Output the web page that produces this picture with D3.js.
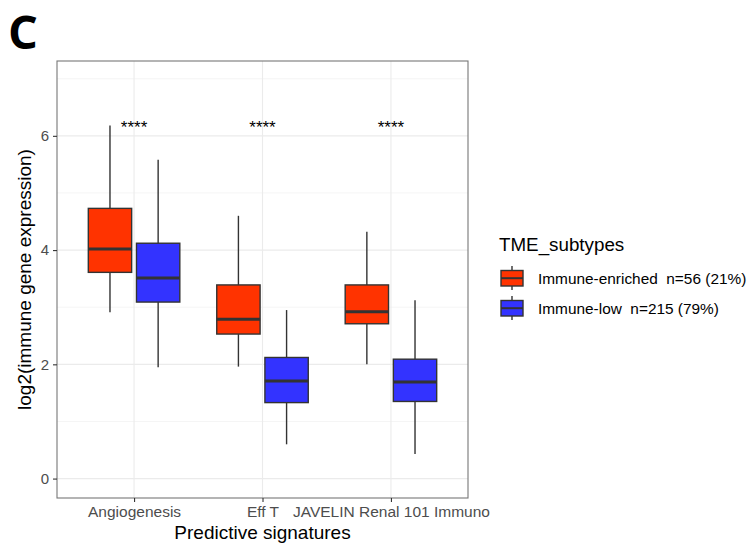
<!DOCTYPE html>
<html><head><meta charset="utf-8">
<script src="https://cdn.jsdelivr.net/npm/d3@7"></script>
<style>body{margin:0;background:#fff}svg{display:block}text{font-family:"Liberation Sans",Arial,sans-serif}</style>
</head><body>
<script>
const categories = ["Angiogenesis", "Eff T", "JAVELIN Renal 101 Immuno"];
const groups = ["Immune-enriched", "Immune-low"];
const groupLabels = ["Immune-enriched  n=56 (21%)", "Immune-low  n=215 (79%)"];
const groupColors = ["#FF3300", "#3333FF"];
// [whiskerLow, q1, median, q3, whiskerHigh] per category
const enrichedStats = [[2.91, 3.61, 4.02, 4.73, 6.18], [1.96, 2.53, 2.79, 3.39, 4.60], [2.00, 2.71, 2.92, 3.39, 4.32]];
const lowStats = [[1.95, 3.09, 3.51, 4.12, 5.58], [0.60, 1.33, 1.71, 2.12, 2.95], [0.43, 1.35, 1.69, 2.09, 3.12]];
const signif = ["****", "****", "****"];
const yTicks = [0, 2, 4, 6];
const yMinor = [1, 3, 5, 7];

const W = 749, H = 544;
const P = {l: 57, r: 468, t: 61, b: 498};
const svg = d3.select("body").append("svg").attr("width", W).attr("height", H);

const x = d3.scalePoint().domain(categories).range([P.l, P.r]).padding(0.6);
const step = x.step();
const y = d3.scaleLinear().domain([-0.34, 7.31]).range([P.b, P.t]);

// grid
const g = svg.append("g");
g.selectAll(".minor").data(yMinor).join("line")
  .attr("x1", P.l).attr("x2", P.r).attr("y1", d => y(d)).attr("y2", d => y(d))
  .attr("stroke", "#F2F2F2").attr("stroke-width", 0.8);
g.selectAll(".major").data(yTicks).join("line")
  .attr("x1", P.l).attr("x2", P.r).attr("y1", d => y(d)).attr("y2", d => y(d))
  .attr("stroke", "#EBEBEB").attr("stroke-width", 1.1);
g.selectAll(".vmaj").data(categories).join("line")
  .attr("x1", d => x(d)).attr("x2", d => x(d)).attr("y1", P.t).attr("y2", P.b)
  .attr("stroke", "#EBEBEB").attr("stroke-width", 1.1);

// boxes
const dodge = 0.1875 * step, bw = 0.3375 * step;
const allStats = [enrichedStats, lowStats];
allStats.forEach((stats, gi) => {
  const off = gi === 0 ? -dodge : dodge;
  stats.forEach((s, ci) => {
    const cx = x(categories[ci]) + off;
    const bg = svg.append("g");
    bg.append("line").attr("x1", cx).attr("x2", cx).attr("y1", y(s[0])).attr("y2", y(s[1]))
      .attr("stroke", "#333").attr("stroke-width", 1.4);
    bg.append("line").attr("x1", cx).attr("x2", cx).attr("y1", y(s[3])).attr("y2", y(s[4]))
      .attr("stroke", "#333").attr("stroke-width", 1.4);
    bg.append("rect").attr("x", cx - bw / 2).attr("width", bw)
      .attr("y", y(s[3])).attr("height", y(s[1]) - y(s[3]))
      .attr("fill", groupColors[gi]).attr("stroke", "#333").attr("stroke-width", 1.4);
    bg.append("line").attr("x1", cx - bw / 2).attr("x2", cx + bw / 2).attr("y1", y(s[2])).attr("y2", y(s[2]))
      .attr("stroke", "#333").attr("stroke-width", 3);
  });
});

// significance
svg.selectAll(".sig").data(categories).join("text")
  .attr("x", d => x(d)).attr("y", y(6.2) + 9)
  .attr("text-anchor", "middle").attr("font-size", 17).attr("fill", "#000")
  .text((d, i) => signif[i]);

// border
svg.append("rect").attr("x", P.l).attr("y", P.t).attr("width", P.r - P.l).attr("height", P.b - P.t)
  .attr("fill", "none").attr("stroke", "#777").attr("stroke-width", 1.1);

// axes
const ya = svg.append("g").attr("transform", `translate(${P.l},0)`)
  .call(d3.axisLeft(y).tickValues(yTicks).tickSize(4).tickPadding(4).tickFormat(d3.format("d")));
ya.select(".domain").remove();
ya.selectAll("line").attr("stroke", "#333").attr("stroke-width", 1.1);
ya.selectAll("text").attr("fill", "#4D4D4D").attr("font-size", 15).attr("font-family", "Liberation Sans, Arial, sans-serif");

const xa = svg.append("g").attr("transform", `translate(0,${P.b})`)
  .call(d3.axisBottom(x).tickSize(4).tickPadding(4));
xa.select(".domain").remove();
xa.selectAll("line").attr("stroke", "#333").attr("stroke-width", 1.1);
xa.selectAll("text").attr("fill", "#4D4D4D").attr("font-size", 15.5).attr("font-family", "Liberation Sans, Arial, sans-serif");

// titles
svg.append("text").attr("x", (P.l + P.r) / 2).attr("y", 539).attr("text-anchor", "middle")
  .attr("font-size", 19).text("Predictive signatures");
svg.append("text").attr("transform", `translate(31,${(P.t + P.b) / 2}) rotate(-90)`).attr("text-anchor", "middle")
  .attr("font-size", 19).text("log2(immune gene expression)");
svg.append("text").attr("x", 8).attr("y", 49).attr("font-size", 47).attr("font-weight", "bold")
  .style("font-family", "'Open Sans', 'Noto Sans', sans-serif").text("C");

// legend
const lg = svg.append("g");
lg.append("text").attr("x", 499).attr("y", 251).attr("font-size", 18.8).text("TME_subtypes");
groups.forEach((gname, i) => {
  const ky = 266 + i * 30;
  const kx = 512;
  lg.append("line").attr("x1", kx).attr("x2", kx).attr("y1", ky).attr("y2", ky + 24)
    .attr("stroke", "#333").attr("stroke-width", 1.4);
  lg.append("rect").attr("x", 501).attr("y", ky + 4.5).attr("width", 22).attr("height", 15.5)
    .attr("fill", groupColors[i]).attr("stroke", "#333").attr("stroke-width", 1.4);
  lg.append("line").attr("x1", 501).attr("x2", 523).attr("y1", ky + 12.2).attr("y2", ky + 12.2)
    .attr("stroke", "#333").attr("stroke-width", 2);
  lg.append("text").attr("x", 538).attr("y", ky + 18).attr("font-size", 15.4)
    .style("white-space", "pre").text(groupLabels[i]);
});
</script>
</body></html>
